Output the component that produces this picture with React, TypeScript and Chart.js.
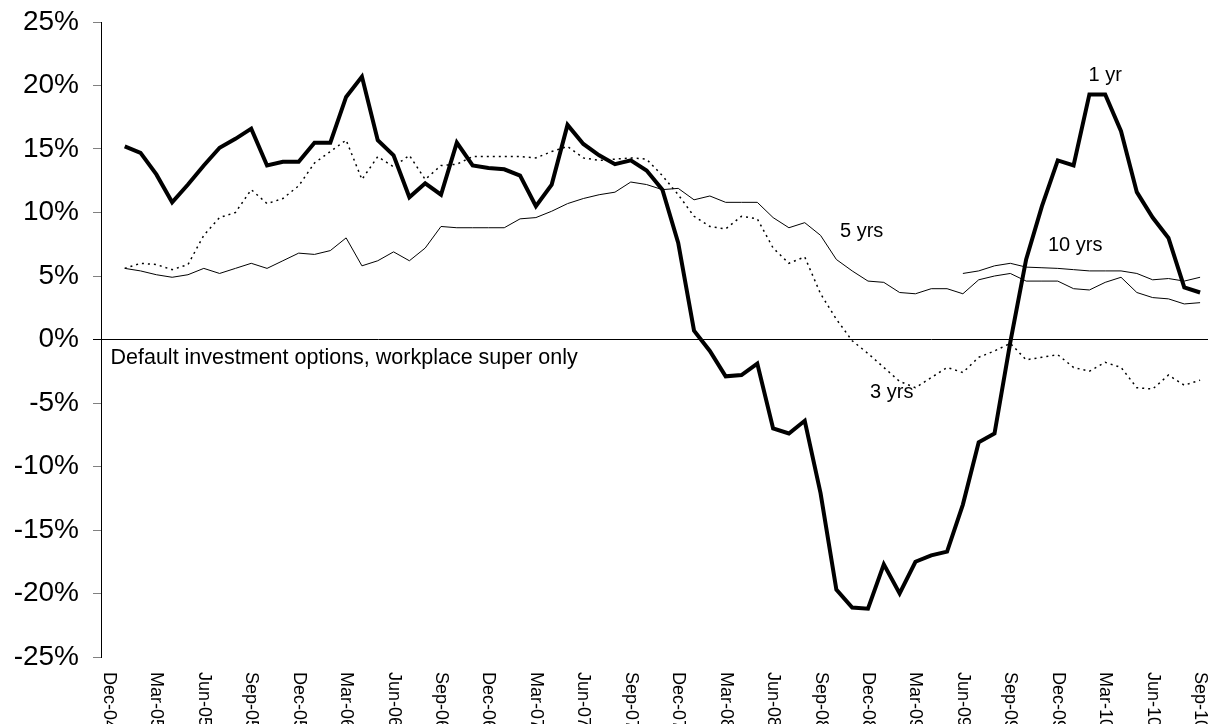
import React, { useEffect, useRef } from 'react';
import { Chart, registerables } from 'chart.js';

Chart.register(...registerables);

const FONT = "'Liberation Sans', Arial, Helvetica, sans-serif";

const categories = [
  'Dec-04',
  'Jan-05', 'Feb-05', 'Mar-05', 'Apr-05', 'May-05', 'Jun-05', 'Jul-05', 'Aug-05', 'Sep-05', 'Oct-05', 'Nov-05', 'Dec-05',
  'Jan-06', 'Feb-06', 'Mar-06', 'Apr-06', 'May-06', 'Jun-06', 'Jul-06', 'Aug-06', 'Sep-06', 'Oct-06', 'Nov-06', 'Dec-06',
  'Jan-07', 'Feb-07', 'Mar-07', 'Apr-07', 'May-07', 'Jun-07', 'Jul-07', 'Aug-07', 'Sep-07', 'Oct-07', 'Nov-07', 'Dec-07',
  'Jan-08', 'Feb-08', 'Mar-08', 'Apr-08', 'May-08', 'Jun-08', 'Jul-08', 'Aug-08', 'Sep-08', 'Oct-08', 'Nov-08', 'Dec-08',
  'Jan-09', 'Feb-09', 'Mar-09', 'Apr-09', 'May-09', 'Jun-09', 'Jul-09', 'Aug-09', 'Sep-09', 'Oct-09', 'Nov-09', 'Dec-09',
  'Jan-10', 'Feb-10', 'Mar-10', 'Apr-10', 'May-10', 'Jun-10', 'Jul-10', 'Aug-10', 'Sep-10',
];

const xTickLabels = [
  'Dec-04', 'Mar-05', 'Jun-05', 'Sep-05', 'Dec-05', 'Mar-06', 'Jun-06', 'Sep-06',
  'Dec-06', 'Mar-07', 'Jun-07', 'Sep-07', 'Dec-07', 'Mar-08', 'Jun-08', 'Sep-08',
  'Dec-08', 'Mar-09', 'Jun-09', 'Sep-09', 'Dec-09', 'Mar-10', 'Jun-10', 'Sep-10',
];

const yTickValues = [-25, -20, -15, -10, -5, 0, 5, 10, 15, 20, 25];

const oneYear = [
  null,
  15.2, 14.7, 13.0, 10.8, 12.2, 13.7, 15.1, 15.8, 16.6, 13.7, 14.0, 14.0,
  15.5, 15.5, 19.1, 20.7, 15.7, 14.5, 11.2, 12.3, 11.4, 15.5, 13.7, 13.5,
  13.4, 12.9, 10.5, 12.2, 16.9, 15.4, 14.5, 13.8, 14.1, 13.3, 11.8, 7.6,
  0.7, -0.9, -2.9, -2.8, -1.9, -7.0, -7.4, -6.4, -12.1, -19.7, -21.1, -21.2,
  -17.7, -20.0, -17.5, -17.0, -16.7, -13.0, -8.1, -7.4, -0.2, 6.3, 10.5, 14.1,
  13.7, 19.3, 19.3, 16.4, 11.6, 9.6, 8.0, 4.1, 3.7,
];

const threeYears = [
  null,
  5.6, 6.0, 5.9, 5.5, 5.9, 8.2, 9.6, 10.0, 11.8, 10.7, 11.1, 12.1,
  13.9, 14.8, 15.7, 12.6, 14.4, 13.6, 14.5, 12.6, 13.7, 13.8, 14.4, 14.4,
  14.4, 14.4, 14.3, 14.8, 15.2, 14.3, 14.1, 14.2, 14.3, 14.2, 12.9, 11.4,
  9.7, 8.9, 8.7, 9.7, 9.5, 7.2, 6.0, 6.5, 3.6, 1.6, -0.1, -1.1,
  -2.2, -3.3, -3.8, -3.0, -2.2, -2.6, -1.4, -0.9, -0.3, -1.6, -1.4, -1.2,
  -2.2, -2.5, -1.8, -2.2, -3.8, -3.9, -2.8, -3.6, -3.2,
];

const fiveYears = [
  null,
  5.6, 5.4, 5.1, 4.9, 5.1, 5.6, 5.2, 5.6, 6.0, 5.6, 6.2, 6.8,
  6.7, 7.0, 8.0, 5.8, 6.2, 6.9, 6.2, 7.2, 8.9, 8.8, 8.8, 8.8,
  8.8, 9.5, 9.6, 10.1, 10.7, 11.1, 11.4, 11.6, 12.4, 12.2, 11.8, 11.9,
  11.0, 11.3, 10.8, 10.8, 10.8, 9.6, 8.8, 9.2, 8.2, 6.3, 5.4, 4.6,
  4.5, 3.7, 3.6, 4.0, 4.0, 3.6, 4.7, 5.0, 5.2, 4.6, 4.6, 4.6,
  4.0, 3.9, 4.5, 4.9, 3.7, 3.3, 3.2, 2.8, 2.9,
];

const tenYears = [
  null,
  null, null, null, null, null, null, null, null, null, null, null, null,
  null, null, null, null, null, null, null, null, null, null, null, null,
  null, null, null, null, null, null, null, null, null, null, null, null,
  null, null, null, null, null, null, null, null, null, null, null, null,
  null, null, null, null, null, 5.2, 5.4, 5.8, 6.0, 5.7, 5.65, 5.6,
  5.5, 5.4, 5.4, 5.4, 5.2, 4.7, 4.8, 4.6, 4.9,
];

// Series labels anchored in data space (category index, value)
const seriesLabelTexts = ['1 yr', '5 yrs', '10 yrs', '3 yrs'];
const seriesLabelIndex = [63.0, 47.6, 61.1, 49.5];
const seriesLabelValue = [20.8, 8.5, 7.4, -4.2];

const noteText = 'Default investment options, workplace super only';
const noteIndex = 0.1;
const noteValue = -1.45;

const annotationPlugin = {
  id: 'annotations',
  afterDatasetsDraw(chart: any) {
    const { ctx, scales } = chart;
    const x = scales.x;
    const y = scales.y;
    ctx.save();
    ctx.fillStyle = '#000';
    ctx.font = `20px ${FONT}`;
    ctx.textAlign = 'center';
    ctx.textBaseline = 'middle';
    for (let i = 0; i < seriesLabelTexts.length; i++) {
      ctx.fillText(
        seriesLabelTexts[i],
        x.getPixelForValue(seriesLabelIndex[i]),
        y.getPixelForValue(seriesLabelValue[i])
      );
    }
    ctx.font = `21.5px ${FONT}`;
    ctx.textAlign = 'left';
    ctx.fillText(noteText, x.getPixelForValue(noteIndex), y.getPixelForValue(noteValue));
    ctx.restore();
  },
};

const xLabelPlugin = {
  id: 'rotatedXLabels',
  afterDraw(chart: any) {
    const { ctx, scales, chartArea } = chart;
    const x = scales.x;
    ctx.save();
    ctx.fillStyle = '#000';
    ctx.font = `18px ${FONT}`;
    ctx.textAlign = 'left';
    ctx.textBaseline = 'middle';
    categories.forEach((c, i) => {
      if (!xTickLabels.includes(c)) return;
      const px = x.getPixelForValue(i);
      ctx.save();
      ctx.translate(px, chartArea.bottom + 15);
      ctx.rotate(Math.PI / 2);
      ctx.fillText(c, 0, 0);
      ctx.restore();
    });
    ctx.restore();
  },
};

export default function App() {
  const canvasRef = useRef<HTMLCanvasElement | null>(null);

  useEffect(() => {
    if (!canvasRef.current) return;
    Chart.defaults.font.family = FONT;
    const chart = new Chart(canvasRef.current, {
      type: 'line',
      data: {
        labels: categories,
        datasets: [
          {
            label: '10 yrs',
            data: tenYears,
            borderColor: '#000',
            borderWidth: 1,
            pointRadius: 0,
            tension: 0,
            spanGaps: false,
          },
          {
            label: '5 yrs',
            data: fiveYears,
            borderColor: '#000',
            borderWidth: 1,
            pointRadius: 0,
            tension: 0,
          },
          {
            label: '3 yrs',
            data: threeYears,
            borderColor: '#000',
            borderWidth: 1.5,
            borderDash: [2, 4],
            pointRadius: 0,
            tension: 0,
          },
          {
            label: '1 yr',
            data: oneYear,
            borderColor: '#000',
            borderWidth: 4,
            borderJoinStyle: 'miter',
            pointRadius: 0,
            tension: 0,
          },
        ],
      },
      options: {
        animation: false,
        responsive: true,
        maintainAspectRatio: false,
        layout: { padding: { top: 22, right: 3, left: 0, bottom: 0 } },
        plugins: {
          legend: { display: false },
          tooltip: { enabled: false },
        },
        events: [],
        scales: {
          x: {
            type: 'category',
            offset: true,
            grid: { display: false },
            border: { display: false },
            ticks: { display: false },
            afterFit: (scale: any) => {
              scale.height = 67;
            },
          },
          y: {
            min: -25,
            max: 25,
            afterBuildTicks: (scale: any) => {
              scale.ticks = yTickValues.map((v) => ({ value: v }));
            },
            grid: {
              drawOnChartArea: true,
              drawTicks: true,
              tickLength: 8,
              lineWidth: 1,
              color: (ctx: any) => (ctx.tick && ctx.tick.value === 0 ? '#000' : 'rgba(0,0,0,0)'),
              tickColor: (ctx: any) => (ctx.tick && ctx.tick.value === 0 ? '#000' : '#808080'),
            },
            border: { display: true, color: '#000', width: 1 },
            ticks: {
              padding: 14,
              color: '#000',
              font: { size: 28, family: FONT },
              callback: (v: any) => `${v}%`,
            },
            afterFit: (scale: any) => {
              scale.width = 101;
              scale.paddingTop = 0;
              scale.paddingBottom = 0;
            },
          },
        },
      },
      plugins: [annotationPlugin, xLabelPlugin],
    });
    return () => chart.destroy();
  }, []);

  return (
    <div style={{ position: 'fixed', left: 0, top: 0, width: 1211, height: 724, background: '#fff' }}>
      <canvas ref={canvasRef} />
    </div>
  );
}
